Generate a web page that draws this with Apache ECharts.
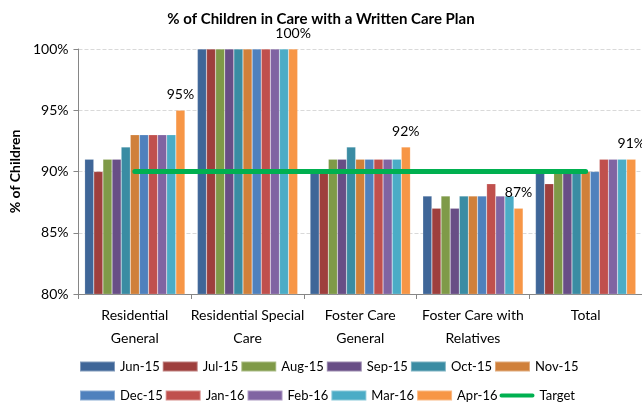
<!DOCTYPE html>
<html>
<head>
<meta charset="utf-8">
<script src="https://cdn.jsdelivr.net/npm/echarts@6/dist/echarts.min.js"></script>
<style>
	html, body { margin: 0; padding: 0; background: #fff; }
	#main { width: 642px; height: 403px; }
</style>
</head>
<body>
<div id="main"></div>
<script>
var categories = ['Residential\nGeneral', 'Residential Special\nCare', 'Foster Care\nGeneral', 'Foster Care with\nRelatives', 'Total'];
var months = ['Jun-15', 'Jul-15', 'Aug-15', 'Sep-15', 'Oct-15', 'Nov-15', 'Dec-15', 'Jan-16', 'Feb-16', 'Mar-16', 'Apr-16'];
var colors = ['#3F6698', '#9E3F3D', '#7F9A48', '#684E86', '#3A8CA3', '#D0803A', '#4F81BD', '#C0504D', '#8064A2', '#4BACC6', '#F79646'];
// one array per month, across the five categories
var jun15 = [91, 100, 90, 88, 90];
var jul15 = [90, 100, 90, 87, 89];
var aug15 = [91, 100, 91, 88, 90];
var sep15 = [91, 100, 91, 87, 90];
var oct15 = [92, 100, 92, 88, 90];
var nov15 = [93, 100, 91, 88, 90];
var dec15 = [93, 100, 91, 88, 90];
var jan16 = [93, 100, 91, 89, 91];
var feb16 = [93, 100, 91, 88, 91];
var mar16 = [93, 100, 91, 88, 91];
var apr16 = [95, 100, 92, 87, 91];
var target = [90, 90, 90, 90, 90];
var yTicks = [80, 85, 90, 95, 100];

var monthData = [jun15, jul15, aug15, sep15, oct15, nov15, dec15, jan16, feb16, mar16, apr16];
var font = 'Lato, "Open Sans", sans-serif';

var series = [];
for (var i = 0; i < monthData.length; i++) {
	var s = {
		name: months[i],
		type: 'bar',
		data: monthData[i],
		barGap: '0%',
		barCategoryGap: '11%',
		itemStyle: { color: colors[i], borderColor: 'rgba(255,255,255,0.35)', borderWidth: 0.5 }
	};
	if (i == monthData.length - 1) { // last month carries the labels
		s.label = {
			show: true,
			position: 'top',
			distance: 9,
			formatter: '{c}%',
			fontFamily: font,
			fontSize: 14,
			color: '#000'
		};
	}
	series.push(s);
}
series.push({
	name: 'Target',
	type: 'line',
	data: target,
	symbol: 'none',
	z: 5,
	lineStyle: { color: '#00B050', width: 5, cap: 'round' },
	itemStyle: { color: '#00B050' }
});

var lineIcon = 'path://M2,0 L34,0 A2,2 0 0 1 34,4 L2,4 A2,2 0 0 1 2,0 Z';
var legendCommon = {
	left: 74,
	itemWidth: 35,
	itemHeight: 10,
	itemGap: 2,
	textStyle: { fontFamily: font, fontSize: 13, color: '#000', width: 42 }
};

var chart = echarts.init(document.getElementById('main'));
var option = {
	animation: false,
	color: colors.concat(['#00B050']),
	title: {
		text: '% of Children in Care with a Written Care Plan',
		left: 'center',
		top: 7,
		textStyle: { fontFamily: font, fontSize: 15, fontWeight: 'bold', color: '#000' }
	},
	legend: [
		Object.assign({}, legendCommon, { top: 355, data: months.slice(0, 6).map(function(m) { return { name: m, icon: 'rect' }; }) }),
		Object.assign({}, legendCommon, { top: 384, data: months.slice(6).map(function(m) { return { name: m, icon: 'rect' }; }).concat([{ name: 'Target', icon: lineIcon }]) })
	],
	grid: { left: 73, right: -1, top: 49, bottom: 109 },
	xAxis: {
		type: 'category',
		data: categories,
		axisLine: { lineStyle: { color: '#868686', width: 1 } },
		axisTick: { show: true, length: 5, lineStyle: { color: '#868686' } },
		axisLabel: { interval: 0, fontFamily: font, fontSize: 14, color: '#000', margin: 10, lineHeight: 23 }
	},
	yAxis: {
		type: 'value',
		min: yTicks[0],
		max: yTicks[yTicks.length - 1],
		interval: 5,
		name: '% of Children',
		nameLocation: 'middle',
		nameGap: 55,
		nameTextStyle: { fontFamily: font, fontSize: 14, fontWeight: 'bold', color: '#000' },
		axisLine: { show: true, lineStyle: { color: '#868686', width: 1 } },
		axisTick: { show: true, length: 5, lineStyle: { color: '#868686' } },
		axisLabel: { fontFamily: font, fontSize: 14, color: '#000', margin: 10, formatter: '{value}%' },
		splitLine: { lineStyle: { color: '#D9D9D9', type: 'dashed' } }
	},
	series: series
};
chart.setOption(option);
</script>
</body>
</html>
